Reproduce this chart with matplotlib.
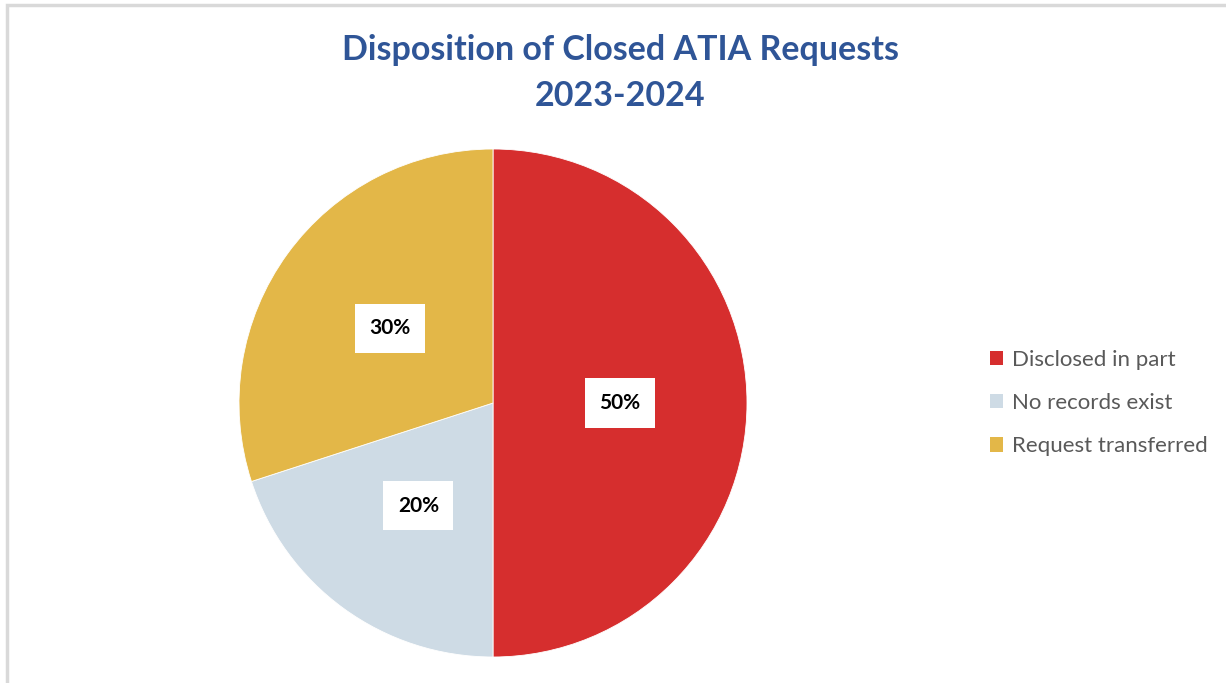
import matplotlib.pyplot as plt
from matplotlib.patches import Rectangle, Patch

# data
categories = ["Disclosed in part", "No records exist", "Request transferred"]
shares = [50, 20, 30]
colors = ["#D62E2E", "#CEDBE5", "#E3B748"]

plt.rcParams['font.family'] = ['Lato', 'DejaVu Sans']

fig = plt.figure(figsize=(12.26, 6.83), dpi=100)

# light grey frame round the chart area
fig.patches.append(Rectangle((7 / 1226, -0.1), 1.2, (683 - 5) / 683 + 0.1,
                             transform=fig.transFigure, fill=False,
                             edgecolor="#D9D9D9", linewidth=2.5))

ax = fig.add_axes([239 / 1226, 26 / 683, 508 / 1226, 508 / 683])
wedges, texts, autotexts = ax.pie(
    shares, colors=colors, startangle=90, counterclock=False,
    autopct=lambda p: "%d%%" % round(p), pctdistance=0.5,
    wedgeprops=dict(edgecolor="white", linewidth=0.6))
for t in autotexts:
    t.set_fontsize(15)
    t.set_fontweight("bold")
    t.set_color("black")
    t.set_bbox(dict(facecolor="white", edgecolor="none", boxstyle="square,pad=0.7"))
ax.set_xlim(-1, 1)
ax.set_ylim(-1, 1)
ax.set_aspect("equal")

fig.text(620 / 1226, 1 - 50 / 683, "Disposition of Closed ATIA Requests",
         ha="center", va="center", fontsize=24.5, fontweight="bold", color="#2F5597")
fig.text(620 / 1226, 1 - 96 / 683, "2023-2024",
         ha="center", va="center", fontsize=24.5, fontweight="bold", color="#2F5597")

handles = [Patch(facecolor=c, edgecolor="none") for c in colors]
fig.legend(handles, categories, loc="center left", bbox_to_anchor=(990 / 1226, 1 - 403 / 683),
           frameon=False, fontsize=16, labelcolor="#595959", borderpad=0, borderaxespad=0,
           handlelength=0.6, handleheight=0.6, handletextpad=0.4, labelspacing=1.05)

fig.savefig("out.png", dpi=100, facecolor="white")
